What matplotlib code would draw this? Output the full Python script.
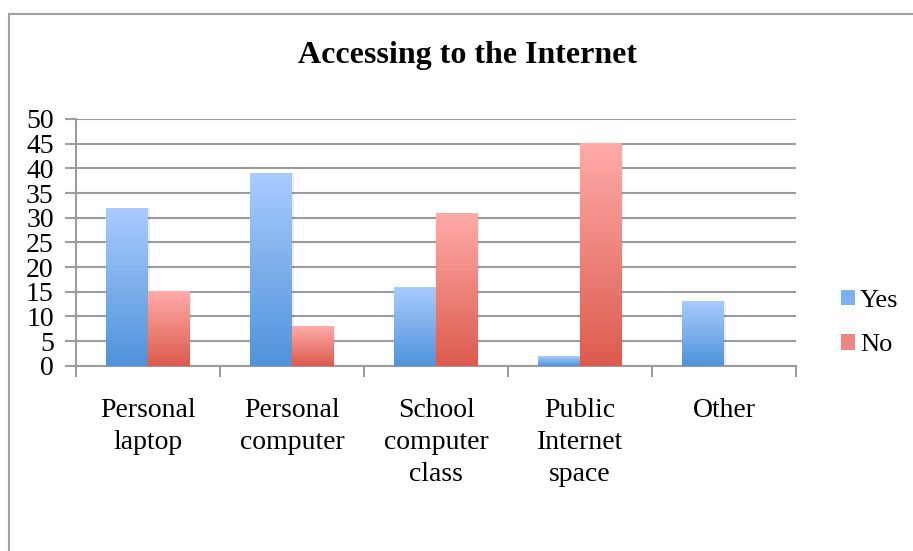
import numpy as np
import matplotlib.pyplot as plt
from matplotlib.patches import Patch, Rectangle
from matplotlib.colors import LinearSegmentedColormap

plt.rcParams['font.family'] = ['Liberation Serif', 'DejaVu Serif']

# chart data
categories = ["Personal\nlaptop", "Personal\ncomputer", "School\ncomputer\nclass",
              "Public\nInternet\nspace", "Other"]
yes_values = [32, 39, 16, 2, 13]
no_values = [15, 8, 31, 45, 0]
series_names = ["Yes", "No"]

# gradient colours (top, bottom)
yes_top, yes_bottom = "#a9cbfe", "#4f93da"
no_top, no_bottom = "#ffaba9", "#dc5b4d"

fig = plt.figure(figsize=(9.13, 5.51), dpi=100)
ax = fig.add_axes([76 / 913, 1 - 365.7 / 551, 720 / 913, 246.7 / 551])

# outer chart frame (runs off the right and bottom edge)
fig.patches.append(Rectangle((8.5 / 913, -0.1), 1.2, 1 - 13.5 / 551 + 0.1,
                             transform=fig.transFigure, fill=False,
                             edgecolor="#a0a0a0", linewidth=1.5))

x = np.arange(len(categories))
width = 0.29


def gradient_bars(xpos, values, top, bottom):
    cmap = LinearSegmentedColormap.from_list("g", [bottom, top])
    grad = np.linspace(0, 1, 256).reshape(-1, 1)
    bars = ax.bar(xpos, values, width, color="none", zorder=3)
    for b in bars:
        h = b.get_height()
        if h <= 0:
            continue
        x0 = b.get_x()
        # faint shadow on the right side
        ax.add_patch(Rectangle((x0 + 0.012, 0), width, h, facecolor="#000000",
                               alpha=0.08, linewidth=0, zorder=2.5))
        ax.imshow(grad, cmap=cmap, origin="lower", aspect="auto",
                  extent=[x0, x0 + width, 0, h], zorder=3, interpolation="bilinear")
    return bars


gradient_bars(x - width / 2, yes_values, yes_top, yes_bottom)
gradient_bars(x + width / 2, no_values, no_top, no_bottom)

ax.set_xlim(-0.5, len(categories) - 0.5)
ax.set_ylim(0, 50)
ax.set_yticks(range(0, 51, 5))
ax.yaxis.grid(True, color="#9c9c9c", linewidth=1.5, zorder=0)
ax.set_axisbelow(True)

# category ticks sit between groups, labels in the middle
ax.set_xticks(np.arange(-0.5, len(categories), 1))
ax.set_xticklabels([])
ax.set_xticks(x, minor=True)
ax.set_xticklabels(categories, minor=True, fontsize=20, linespacing=1.38, va="top")
ax.tick_params(axis="x", which="minor", length=0, pad=23)
ax.tick_params(axis="x", which="major", length=8, width=1.5, color="#9c9c9c")
ax.tick_params(axis="y", length=8, width=1.5, color="#9c9c9c", labelsize=20, pad=8)

for side in ["top", "right"]:
    ax.spines[side].set_visible(False)
ax.spines["left"].set_color("#9c9c9c")
ax.spines["left"].set_linewidth(1.5)
ax.spines["bottom"].set_color("#9c9c9c")
ax.spines["bottom"].set_linewidth(1.5)

fig.text(468 / 913, 1 - 56 / 551, "Accessing to the Internet", fontsize=23,
         fontweight="bold", ha="center", va="center")

handles = [Patch(facecolor="#7cb0ee", edgecolor="none"),
           Patch(facecolor="#ee8580", edgecolor="none")]
fig.legend(handles, series_names, loc="center left",
           bbox_to_anchor=(828 / 913, 1 - 323 / 551), frameon=False,
           fontsize=19, handlelength=0.52, handleheight=0.52,
           handletextpad=0.2, labelspacing=0.85, borderpad=0)

fig.savefig("out.png", dpi=100, facecolor="white")
